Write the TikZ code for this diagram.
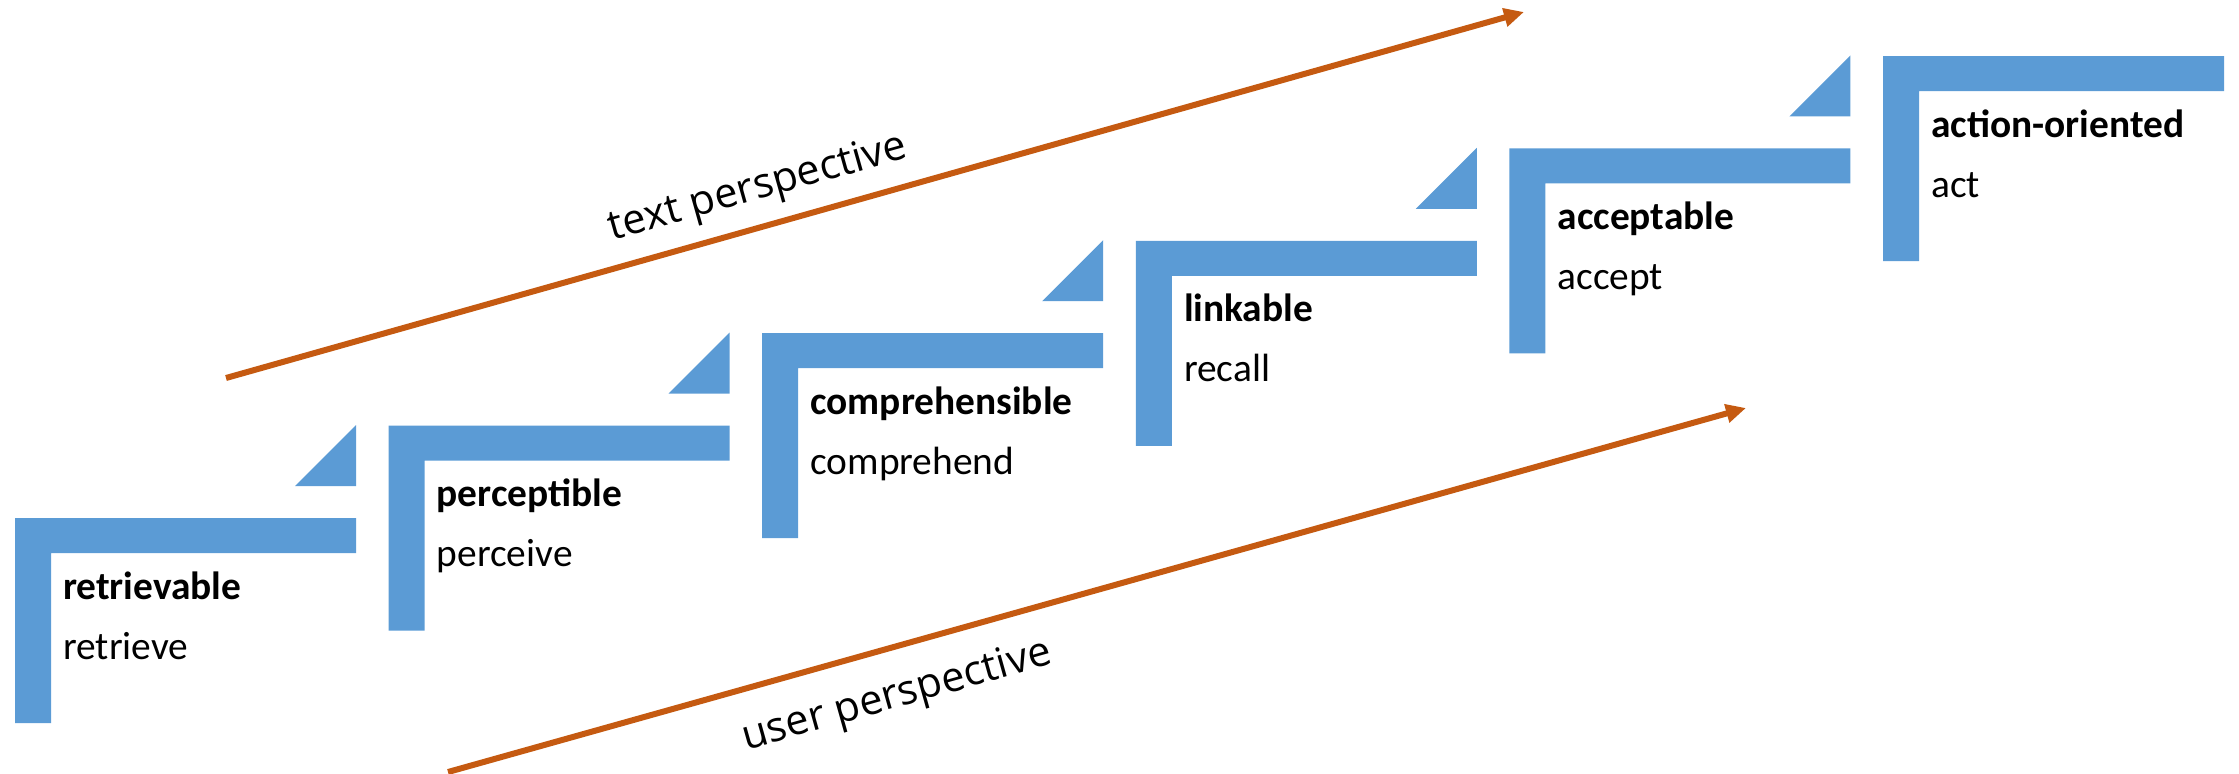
\documentclass[tikz,border=0pt]{standalone}
\usepackage{fontspec}
\setmainfont{Carlito}
\newfontfamily\labelfont{Open Sans}
\usetikzlibrary{arrows.meta}
\definecolor{stepblue}{HTML}{5B9BD5}
\definecolor{arrorange}{HTML}{C55A11}
\tikzset{
  stepshape/.style={fill=stepblue, draw=none},
  steptitle/.style={anchor=base west, inner sep=0pt, font=\fontsize{39.4}{46}\selectfont\bfseries},
  stepverb/.style={anchor=base west, inner sep=0pt, font=\fontsize{39.4}{46}\selectfont},
  persparrow/.style={draw=arrorange, line width=6pt, -{Triangle[length=20pt,width=18pt]}},
  perslabel/.style={inner sep=0pt, rotate=15.7, font=\labelfont\fontsize{41.5}{48}\selectfont}
}
\begin{document}
\begin{tikzpicture}[x=1pt, y=-1pt]
\useasboundingbox (0,0) rectangle (2239,774);

% the six steps of the staircase
\foreach \i/\ttl/\vrb/\nm in {0/retrievable/retrieve/s1, 1/perceptible/perceive/s2,
    2/comprehensible/comprehend/s3, 3/linkable/recall/s4,
    4/acceptable/accept/s5, 5/action-oriented/act/s6}{
  \pgfmathsetmacro\xo{15+373.6*\i}
  \pgfmathsetmacro\yo{518-92.4*\i}
  \fill[stepshape] (\xo,\yo) -- ++(341,0) -- ++(0,35) -- ++(-305,0)
     -- ++(0,170) -- ++(-36,0) -- cycle;
  \node[steptitle] (\nm-title) at (\xo+48,\yo+81) {\ttl};
  \node[stepverb] (\nm-verb) at (\xo+48,\yo+141) {\vrb};
  % small wedge leading up to the next step
  \ifnum\i<5
    \fill[stepshape] (\xo+280,\yo-32) -- (\xo+341,\yo-93) -- (\xo+341,\yo-32) -- cycle;
  \fi
}

% perspective arrows
\coordinate (textstart) at (226,378);
\coordinate (textend) at (1524,12);
\coordinate (userstart) at (448,772);
\coordinate (userend) at (1746,408);
\draw[persparrow] (textstart) -- (textend);
\draw[persparrow] (userstart) -- (userend);

\node[perslabel] (textlabel) at (758,189) {text perspective};
\node[perslabel] (userlabel) at (897,697) {user perspective};
\end{tikzpicture}
\end{document}
